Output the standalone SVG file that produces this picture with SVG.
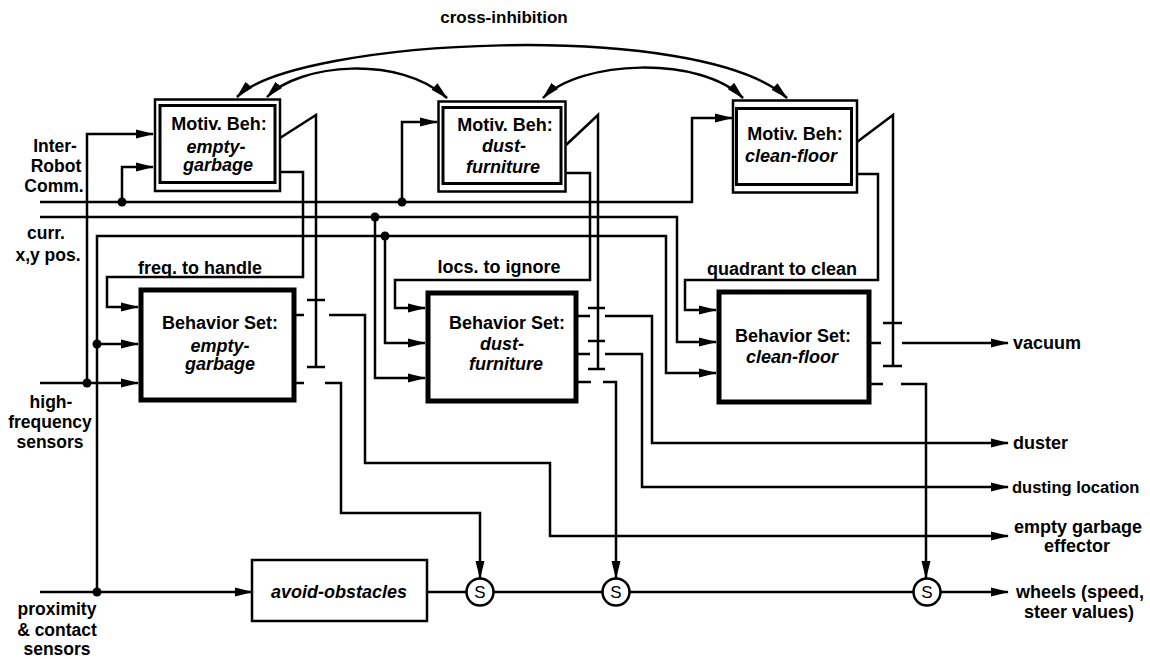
<svg xmlns="http://www.w3.org/2000/svg" width="1150" height="659" viewBox="0 0 1150 659">
<defs>
<style>
.t{font-family:"Liberation Sans",Arial,sans-serif;font-weight:bold;font-size:18px;fill:#000}
.i{font-style:italic}
.m{text-anchor:middle}
.ln{fill:none;stroke:#000;stroke-width:2.5;stroke-linejoin:miter}
.mo{fill:#fff;stroke:#000;stroke-width:2.5}
.mi{fill:none;stroke:#000;stroke-width:3}
.bs{fill:#fff;stroke:#000;stroke-width:5}
.dot{fill:#000}
.sc{fill:#fff;stroke:#000;stroke-width:2.5}
.st{font-family:"Liberation Sans",Arial,sans-serif;font-size:17px;text-anchor:middle;fill:#000}
</style>
<marker id="ah" viewBox="0 0 18 10" refX="17" refY="5" markerWidth="18" markerHeight="10" markerUnits="userSpaceOnUse" orient="auto-start-reverse"><path d="M0,0.5 L18,5 L0,9.5 z" fill="#000"/></marker>
</defs>
<rect width="1150" height="659" fill="#fff"/>

<text class="t m" x="504" y="23" style="font-size:17px">cross-inhibition</text>

<g id="connectors">
<!-- cross inhibition arcs -->
<path class="ln" d="M237 97 C295 38 700 18 787 98" marker-start="url(#ah)" marker-end="url(#ah)"/>
<path class="ln" d="M267 97 C300 63 400 55 447 98" marker-start="url(#ah)" marker-end="url(#ah)"/>
<path class="ln" d="M543 98 C580 60 700 55 743 98" marker-start="url(#ah)" marker-end="url(#ah)"/>

<!-- inter-robot comm -->
<path class="ln" d="M40 202 H692 V118 H732" marker-end="url(#ah)"/>
<path class="ln" d="M122 202 V167 H153" marker-end="url(#ah)"/>
<path class="ln" d="M402 202 V122 H437" marker-end="url(#ah)"/>
<!-- curr xy pos -->
<path class="ln" d="M40 217 H677 V342 H716" marker-end="url(#ah)"/>
<path class="ln" d="M375 217 V378 H425" marker-end="url(#ah)"/>
<!-- high frequency sensors -->
<path class="ln" d="M40 383 H138" marker-end="url(#ah)"/>
<path class="ln" d="M87 383 V134 H153" marker-end="url(#ah)"/>
<!-- proximity -->
<path class="ln" d="M40 592 H252" marker-end="url(#ah)"/>
<path class="ln" d="M97 592 V236 H666 V373 H716" marker-end="url(#ah)"/>
<path class="ln" d="M97 344 H138" marker-end="url(#ah)"/>
<path class="ln" d="M385 236 V343 H425" marker-end="url(#ah)"/>

<!-- MB1 outputs -->
<path class="ln" d="M280 138 L316 115 V367"/>
<path class="ln" d="M307 300 H325 M307 367 H325"/>
<path class="ln" d="M280 172 H303 V277 H107 V307 H138" marker-end="url(#ah)"/>
<!-- MB2 outputs -->
<path class="ln" d="M566 145 L598 115 V369"/>
<path class="ln" d="M588 308 H605 M588 341 H605 M588 369 H605"/>
<path class="ln" d="M566 173 H590 V280 H395 V308 H425" marker-end="url(#ah)"/>
<!-- MB3 outputs -->
<path class="ln" d="M857 142 L893 115 V366"/>
<path class="ln" d="M883 323 H902 M883 366 H902"/>
<path class="ln" d="M857 174 H878 V280 H685 V310 H716" marker-end="url(#ah)"/>

<!-- BS1 outputs -->
<path class="ln" d="M296 315 H304 M296 383 H304"/>
<path class="ln" d="M329 315 H365 V463 H550 V536 H1008" marker-end="url(#ah)"/>
<path class="ln" d="M325 383 H341 V513 H480 V578" marker-end="url(#ah)"/>
<!-- BS2 outputs -->
<path class="ln" d="M578 316 H590 M578 354 H590 M578 382 H591"/>
<path class="ln" d="M605 316 H652 V443 H1008" marker-end="url(#ah)"/>
<path class="ln" d="M605 354 H642 V487 H1008" marker-end="url(#ah)"/>
<path class="ln" d="M603 382 H616 V578" marker-end="url(#ah)"/>
<!-- BS3 outputs -->
<path class="ln" d="M871 343 H881 M871 384 H883"/>
<path class="ln" d="M902 343 H1008" marker-end="url(#ah)"/>
<path class="ln" d="M901 384 H926 V578" marker-end="url(#ah)"/>

<!-- wheels chain -->
<path class="ln" d="M427 592 H467 M494 592 H602 M629 592 H913"/>
<path class="ln" d="M940 592 H1008" marker-end="url(#ah)"/>

<!-- junction dots -->
<circle class="dot" cx="122" cy="202" r="4.5"/>
<circle class="dot" cx="402" cy="202" r="4.5"/>
<circle class="dot" cx="375" cy="217" r="4.5"/>
<circle class="dot" cx="385" cy="236" r="4.5"/>
<circle class="dot" cx="97" cy="344" r="4.5"/>
<circle class="dot" cx="87" cy="383" r="4.5"/>
<circle class="dot" cx="97" cy="592" r="4.5"/>
</g>

<g id="mb-empty-garbage">
<rect class="mo" x="155" y="99.5" width="125" height="91.5"/>
<rect class="mi" x="160" y="105.5" width="115" height="77"/>
<text class="t m" x="219" y="130">Motiv. Beh:</text>
<text class="t m i" x="216" y="153">empty-</text>
<text class="t m i" x="218" y="171">garbage</text>
</g>
<g id="mb-dust-furniture">
<rect class="mo" x="438.5" y="101.5" width="127" height="90"/>
<rect class="mi" x="443" y="107.5" width="118" height="76"/>
<text class="t m" x="505" y="131">Motiv. Beh:</text>
<text class="t m i" x="504" y="152">dust-</text>
<text class="t m i" x="503" y="173">furniture</text>
</g>
<g id="mb-clean-floor">
<rect class="mo" x="733" y="100.5" width="124" height="92"/>
<rect class="mi" x="736.5" y="108.5" width="115" height="76"/>
<text class="t m" x="795" y="140">Motiv. Beh:</text>
<text class="t m i" x="791" y="162">clean-floor</text>
</g>

<g id="bs-empty-garbage">
<rect class="bs" x="141" y="290" width="153" height="110"/>
<text class="t m" x="220" y="329">Behavior Set:</text>
<text class="t m i" x="220" y="352">empty-</text>
<text class="t m i" x="220" y="370">garbage</text>
</g>
<g id="bs-dust-furniture">
<rect class="bs" x="428" y="293" width="148" height="108"/>
<text class="t m" x="507" y="329">Behavior Set:</text>
<text class="t m i" x="502" y="350">dust-</text>
<text class="t m i" x="506" y="370">furniture</text>
</g>
<g id="bs-clean-floor">
<rect class="bs" x="719" y="292" width="150" height="110"/>
<text class="t m" x="793" y="342">Behavior Set:</text>
<text class="t m i" x="792" y="363">clean-floor</text>
</g>

<g id="avoid-obstacles">
<rect x="252" y="560" width="175" height="61" fill="#fff" stroke="#000" stroke-width="2.5"/>
<text class="t m i" x="339" y="598">avoid-obstacles</text>
</g>

<g id="s1"><circle class="sc" cx="480" cy="592" r="13.5"/><text class="st" x="480" y="598">S</text></g>
<g id="s2"><circle class="sc" cx="616" cy="592" r="13.5"/><text class="st" x="616" y="598">S</text></g>
<g id="s3"><circle class="sc" cx="927" cy="592" r="13.5"/><text class="st" x="927" y="598">S</text></g>

<g id="labels">
<text class="t m" x="200" y="274">freq. to handle</text>
<text class="t m" x="499" y="273">locs. to ignore</text>
<text class="t m" x="782" y="275">quadrant to clean</text>

<g style="font-size:17.5px">
<text class="t m" x="55" y="152" style="font-size:17.5px">Inter-</text>
<text class="t m" x="56" y="172" style="font-size:17.5px">Robot</text>
<text class="t m" x="54" y="192" style="font-size:17.5px">Comm.</text>
<text class="t m" x="46" y="239" style="font-size:17.5px">curr.</text>
<text class="t m" x="48" y="261" style="font-size:17.5px">x,y pos.</text>
<text class="t m" x="51" y="408" style="font-size:17.5px">high-</text>
<text class="t m" x="50" y="428" style="font-size:17.5px">frequency</text>
<text class="t m" x="50" y="448" style="font-size:17.5px">sensors</text>
<text class="t m" x="57" y="615" style="font-size:17.5px">proximity</text>
<text class="t m" x="57" y="636" style="font-size:17.5px">&amp; contact</text>
<text class="t m" x="57" y="655" style="font-size:17.5px">sensors</text>
</g>

<text class="t" x="1013" y="349">vacuum</text>
<text class="t" x="1013" y="449">duster</text>
<text class="t" x="1012" y="493" style="font-size:16.5px">dusting location</text>
<text class="t m" x="1078" y="533">empty garbage</text>
<text class="t m" x="1077" y="552">effector</text>
<text class="t m" x="1080" y="598">wheels (speed,</text>
<text class="t m" x="1079" y="618">steer values)</text>
</g>
</svg>
